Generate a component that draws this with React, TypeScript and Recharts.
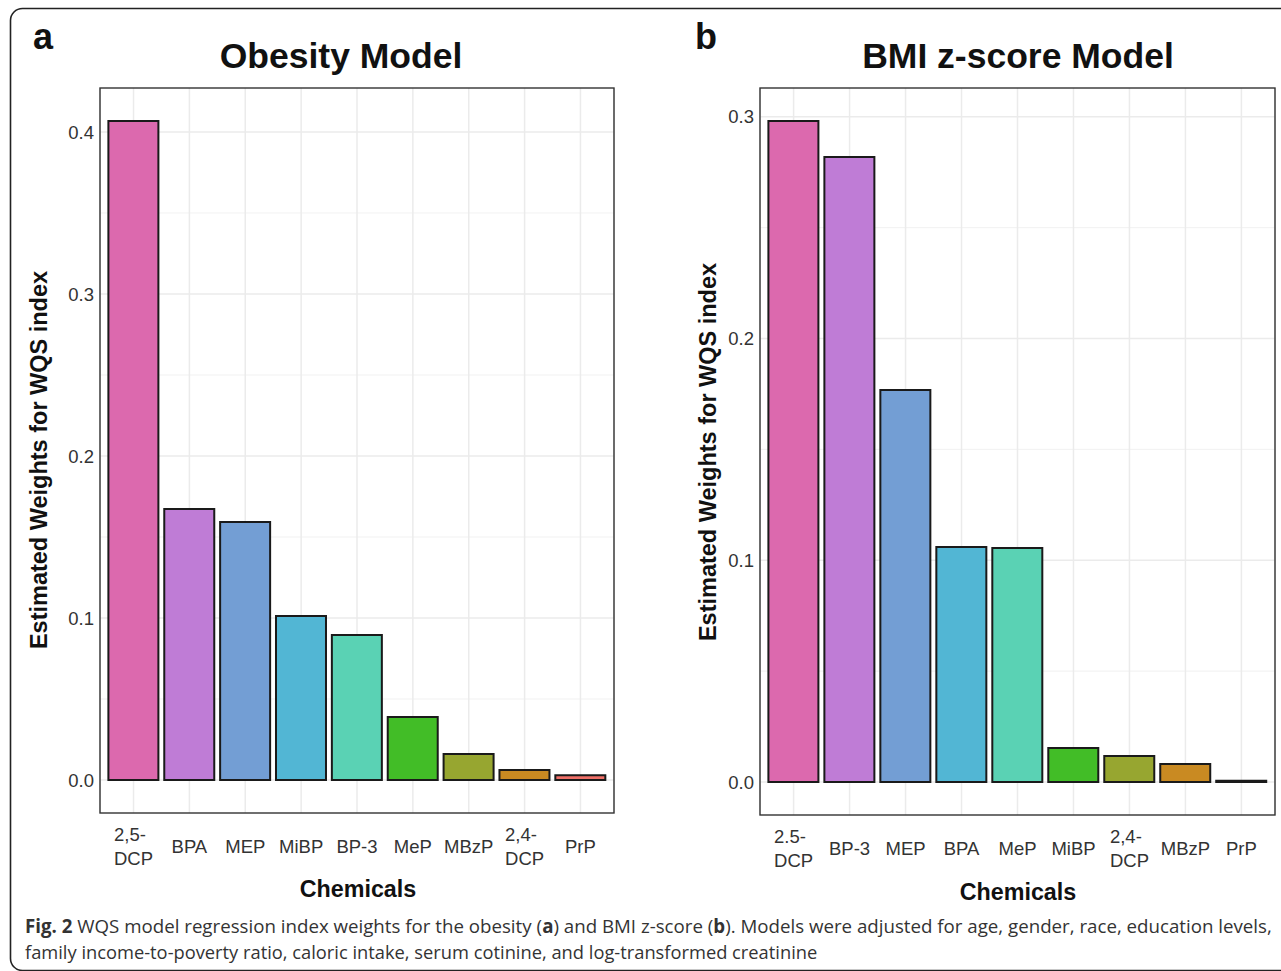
import React from "react";
import { BarChart, Bar, XAxis, YAxis, CartesianGrid, Cell } from "recharts";

const categoriesA = ["2,5-\nDCP", "BPA", "MEP", "MiBP", "BP-3", "MeP", "MBzP", "2,4-\nDCP", "PrP"];
const weightsA = [0.4068, 0.1673, 0.1593, 0.1012, 0.0895, 0.0389, 0.016, 0.0062, 0.003];
const ticksA = [0, 0.1, 0.2, 0.3, 0.4];
const minorA = [0.05, 0.15, 0.25, 0.35];

const categoriesB = ["2.5-\nDCP", "BP-3", "MEP", "BPA", "MeP", "MiBP", "2,4-\nDCP", "MBzP", "PrP"];
const weightsB = [0.2981, 0.2819, 0.1768, 0.106, 0.1055, 0.0153, 0.0117, 0.0081, 0.0005];
const ticksB = [0, 0.1, 0.2, 0.3];
const minorB = [0.05, 0.15, 0.25];

const barColors = ["#DC69AE", "#BF7CD6", "#739ED4", "#52B6D4", "#5AD2B4", "#42BD27", "#97A630", "#C98A22", "#F07068"];

const captionLine1: [string, boolean][] = [
  ["Fig. 2", true],
  [" WQS model regression index weights for the obesity (", false],
  ["a", true],
  [") and BMI z-score (", false],
  ["b", true],
  ["). Models were adjusted for age, gender, race, education levels,", false],
];
const captionLine2: [string, boolean][] = [
  ["family income-to-poverty ratio, caloric intake, serum cotinine, and log-transformed creatinine", false],
];

const FONT = "'Liberation Sans', Arial, Helvetica, sans-serif";
const CAP_FONT = "'Open Sans', 'Noto Sans', sans-serif";

let measureCtx: CanvasRenderingContext2D | null = null;
function textWidth(s: string, size: number, family = FONT, weight = "normal") {
  if (!measureCtx) {
    const c = document.createElement("canvas");
    measureCtx = c.getContext("2d");
  }
  if (!measureCtx) return s.length * size * 0.55;
  measureCtx.font = `${weight} ${size}px ${family}`;
  return measureCtx.measureText(s).width;
}

const TICK_SIZE = 18.5;
const TICK_COLOR = "#333";

function XTick(props: any) {
  const { x, y, payload } = props;
  const value: string = String(payload.value);
  const lines = value.split("\n");
  if (lines.length === 1) {
    return (
      <text x={x} y={y + 34} textAnchor="middle" fontSize={TICK_SIZE} fontFamily={FONT} fill={TICK_COLOR}>
        {value}
      </text>
    );
  }
  const w = Math.max(...lines.map((l) => textWidth(l, TICK_SIZE)));
  const sx = x - w / 2;
  return (
    <text x={sx} y={y + 22} textAnchor="start" fontSize={TICK_SIZE} fontFamily={FONT} fill={TICK_COLOR}>
      <tspan x={sx} y={y + 22}>{lines[0]}</tspan>
      <tspan x={sx} y={y + 46}>{lines[1]}</tspan>
    </text>
  );
}

function CaptionLine({ segs, x, y, width, size }: { segs: [string, boolean][]; x: number; y: number; width: number; size: number }) {
  const widths = segs.map(([s, b]) => textWidth(s.replace(/^ /, "\u00a0"), size, CAP_FONT, b ? "bold" : "normal"));
  const total = widths.reduce((a, b) => a + b, 0);
  const k = total > 0 ? width / total : 1;
  let cx = 0;
  return (
    <g transform={`translate(${x},${y}) scale(${k},1)`}>
      {segs.map(([s, b], i) => {
        const el = (
          <text key={i} x={cx} y={0} fontWeight={b ? "bold" : "normal"} xmlSpace="preserve" style={{ whiteSpace: "pre" }}>
            {s.replace(/^ /, "\u00a0")}
          </text>
        );
        cx += widths[i];
        return el;
      })}
    </g>
  );
}

type PanelProps = {
  cats: string[];
  vals: number[];
  ticks: number[];
  minor: number[];
  width: number;
  height: number;
  margin: { top: number; right: number; bottom: number; left: number };
};

function Panel({ cats, vals, ticks, minor, width, height, margin }: PanelProps) {
  const data = cats.map((c, i) => ({ name: c, value: vals[i] }));
  const mx = Math.max(...vals);
  const domain = [-0.05 * mx, 1.05 * mx];
  return (
    <BarChart width={width} height={height} data={data} margin={margin} barCategoryGap="5%">
      <CartesianGrid horizontalValues={minor} vertical={false} stroke="#EDEDED" strokeWidth={0.8} />
      <CartesianGrid horizontalValues={ticks} stroke="#EBEBEB" strokeWidth={1.5} />
      <XAxis
        dataKey="name"
        type="category"
        interval={0}
        height={60}
        padding={{ left: 5.6, right: 5.6 }}
        axisLine={false}
        tickLine={false}
        tickSize={4}
        tick={<XTick />}
      />
      <YAxis
        type="number"
        domain={domain}
        ticks={ticks}
        allowDataOverflow
        width={40}
        axisLine={false}
        tickLine={false}
        tickSize={4}
        tickMargin={2}
        tickFormatter={(v: number) => v.toFixed(1)}
        tick={{ fontSize: TICK_SIZE, fontFamily: FONT, fill: TICK_COLOR }}
      />
      <Bar dataKey="value" stroke="#1a1a1a" strokeWidth={2} isAnimationActive={false}>
        {data.map((d, i) => (
          <Cell key={d.name} fill={barColors[i]} />
        ))}
      </Bar>
    </BarChart>
  );
}

const marginA = { top: 88, right: 26, bottom: 27, left: 60 };
const marginB = { top: 88, right: 6, bottom: 25, left: 80 };

export default function App() {
  const W = 1281;
  const H = 971;
  return (
    <div style={{ position: "absolute", left: 0, top: 0, width: W, height: H, background: "#fff", overflow: "hidden" }}>
      <div style={{ position: "absolute", left: 0, top: 0 }}>
        <Panel cats={categoriesA} vals={weightsA} ticks={ticksA} minor={minorA} width={640} height={900} margin={marginA} />
      </div>
      <div style={{ position: "absolute", left: 640, top: 0 }}>
        <Panel cats={categoriesB} vals={weightsB} ticks={ticksB} minor={minorB} width={641} height={900} margin={marginB} />
      </div>
      <svg width={W} height={H} style={{ position: "absolute", left: 0, top: 0, pointerEvents: "none" }}>
        <rect x={10.5} y={8.5} width={1300} height={962} rx={12} ry={12} fill="none" stroke="#222" strokeWidth={1.6} />
        <rect x={marginA.left + 40} y={marginA.top} width={640 - marginA.left - 40 - marginA.right} height={900 - marginA.top - marginA.bottom - 60} fill="none" stroke="#333" strokeWidth={1.4} />
        <rect x={640 + marginB.left + 40} y={marginB.top} width={641 - marginB.left - 40 - marginB.right} height={900 - marginB.top - marginB.bottom - 60} fill="none" stroke="#333" strokeWidth={1.4} />
        <g fontFamily={FONT} fill="#111" fontWeight="bold">
          <text x={33} y={49} fontSize={36}>a</text>
          <text x={695} y={49} fontSize={36}>b</text>
          <text x={341} y={68} fontSize={35.5} textAnchor="middle">Obesity Model</text>
          <text x={1018} y={68} fontSize={35.5} textAnchor="middle">BMI z-score Model</text>
          <text x={358} y={897} fontSize={23.3} textAnchor="middle">Chemicals</text>
          <text x={1018} y={900} fontSize={23.3} textAnchor="middle">Chemicals</text>
          <text transform="translate(47,460) rotate(-90)" fontSize={23.5} textAnchor="middle">Estimated Weights for WQS index</text>
          <text transform="translate(716,452) rotate(-90)" fontSize={23.5} textAnchor="middle">Estimated Weights for WQS index</text>
        </g>
        <g fontFamily={CAP_FONT} fill="#333" fontSize={19}>
          <CaptionLine segs={captionLine1} x={25} y={933} width={1247} size={19} />
          <CaptionLine segs={captionLine2} x={25} y={959} width={793} size={19} />
        </g>
      </svg>
    </div>
  );
}
